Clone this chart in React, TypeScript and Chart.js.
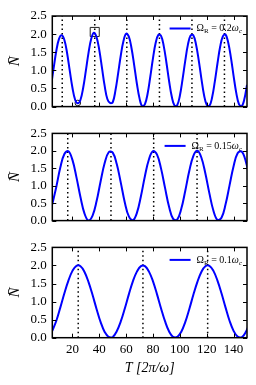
import React, { useEffect, useRef } from 'react';
import { Chart, registerables } from 'chart.js';

Chart.register(...registerables);

// ---------- data ----------
const T1 = [4, 6, 8, 10, 12, 14, 16, 18, 20, 22, 24, 26, 28, 30, 32, 34, 36, 38, 40, 42, 44, 46, 48, 50, 52, 54, 56, 58, 60, 62, 64, 66, 68, 70, 72, 74, 76, 78, 80, 82, 84, 86, 88, 90, 92, 94, 96, 98, 100, 102, 104, 106, 108, 110, 112, 114, 116, 118, 120, 122, 124, 126, 128, 130, 132, 134, 136, 138, 140, 142, 144, 146, 148, 150];
const N1 = [0.56, 1.06, 1.54, 1.87, 1.97, 1.84, 1.48, 0.99, 0.52, 0.19, 0.09, 0.19, 0.52, 0.99, 1.49, 1.87, 2.04, 1.91, 1.56, 1.07, 0.57, 0.21, 0.1, 0.12, 0.44, 0.91, 1.41, 1.81, 2.01, 1.93, 1.61, 1.14, 0.63, 0.22, 0.01, 0.07, 0.36, 0.83, 1.34, 1.76, 1.98, 1.95, 1.67, 1.21, 0.7, 0.27, 0.03, 0.04, 0.3, 0.75, 1.26, 1.71, 1.96, 1.97, 1.72, 1.29, 0.78, 0.32, 0.05, 0.02, 0.25, 0.68, 1.19, 1.65, 1.94, 1.99, 1.77, 1.36, 0.85, 0.38, 0.07, 0.01, 0.2, 0.6];

const T23 = [5, 8, 11, 14, 17, 20, 23, 26, 29, 32, 35, 38, 41, 44, 47, 50, 53, 56, 59, 62, 65, 68, 71, 74, 77, 80, 83, 86, 89, 92, 95, 98, 101, 104, 107, 110, 113, 116, 119, 122, 125, 128, 131, 134, 137, 140, 143, 146, 149, 152];
const N2 = [0.47, 0.97, 1.53, 1.91, 1.99, 1.74, 1.24, 0.67, 0.2, 0.0, 0.14, 0.56, 1.13, 1.65, 1.96, 1.95, 1.62, 1.09, 0.52, 0.12, 0.01, 0.22, 0.7, 1.28, 1.76, 1.99, 1.89, 1.49, 0.93, 0.39, 0.05, 0.03, 0.33, 0.85, 1.42, 1.85, 2.0, 1.81, 1.35, 0.78, 0.28, 0.02, 0.08, 0.46, 1.01, 1.56, 1.93, 1.98, 1.71, 1.2];
const N3 = [0.19, 0.47, 0.84, 1.23, 1.58, 1.85, 1.99, 1.98, 1.82, 1.54, 1.18, 0.79, 0.43, 0.16, 0.02, 0.02, 0.18, 0.45, 0.81, 1.2, 1.56, 1.83, 1.98, 1.98, 1.83, 1.56, 1.2, 0.81, 0.45, 0.17, 0.02, 0.02, 0.16, 0.43, 0.79, 1.18, 1.54, 1.82, 1.98, 1.99, 1.85, 1.58, 1.23, 0.84, 0.47, 0.19, 0.03, 0.01, 0.15, 0.41];

const peaks1 = [12.4, 36.6, 60.5, 84.8, 109, 133.2];
const peaks2 = [16.5, 48.7, 80.5, 112.8];
const peaks3 = [24.3, 72.5, 120.7];

const omegaValues = ['0.2', '0.15', '0.1'];
const xTicks = [20, 40, 60, 80, 100, 120, 140];
const yTicks = [0, 0.5, 1, 1.5, 2, 2.5];
const squareMarker = [{ x: 36.6, y: 2.06 }];
const circleMarker = [{ x: 24, y: 0.1 }];

const X_MIN = 5;
const X_MAX = 150;
const Y_MIN = 0;
const Y_MAX = 2.5;

const SERIF = '"Liberation Serif", "DejaVu Serif", serif';

type PanelProps = {
  top: number;
  height: number;
  padTop: number;
  xHeight: number;
  showX: boolean;
  T: number[];
  N: number[];
  peaks: number[];
  omega: string;
  markers: boolean;
};

function drawLegend(chart: any, omega: string) {
  const { ctx, chartArea } = chart;
  const segs = [
    { t: '\u03A9', size: 10, italic: false, sub: false },
    { t: 'R', size: 7, italic: false, sub: true },
    { t: ' = ' + omega, size: 10, italic: false, sub: false },
    { t: '\u03C9', size: 10, italic: true, sub: false },
    { t: 'c', size: 7, italic: true, sub: true },
  ];
  ctx.save();
  let total = 0;
  const widths = segs.map((s) => {
    ctx.font = `${s.italic ? 'italic ' : ''}${s.size}px ${SERIF}`;
    const w = ctx.measureText(s.t).width;
    total += w;
    return w;
  });
  const yMid = chartArea.top + 12.5;
  const textRight = chartArea.right - 5;
  let x = textRight - total;
  ctx.strokeStyle = '#0000ff';
  ctx.lineWidth = 2;
  ctx.beginPath();
  ctx.moveTo(x - 6 - 21, yMid);
  ctx.lineTo(x - 6, yMid);
  ctx.stroke();
  ctx.fillStyle = '#000';
  ctx.textBaseline = 'middle';
  ctx.textAlign = 'left';
  segs.forEach((s, i) => {
    ctx.font = `${s.italic ? 'italic ' : ''}${s.size}px ${SERIF}`;
    ctx.fillText(s.t, x, s.sub ? yMid + 3 : yMid);
    x += widths[i];
  });
  ctx.restore();
}

function Panel(props: PanelProps) {
  const ref = useRef<HTMLCanvasElement>(null);
  useEffect(() => {
    const { padTop, xHeight, showX, T, N, peaks, omega, markers } = props;
    const datasets: any[] = [
      {
        data: T.map((t, i) => ({ x: t, y: N[i] })),
        borderColor: '#0000ff',
        borderWidth: 2,
        pointRadius: 0,
        tension: 0.4,
        fill: false,
      },
    ];
    if (markers) {
      datasets.push({
        data: squareMarker,
        showLine: false,
        pointStyle: 'rect',
        pointRadius: 6.4,
        borderColor: '#222',
        backgroundColor: 'rgba(0,0,0,0)',
        borderWidth: 1,
      });
      datasets.push({
        data: circleMarker,
        showLine: false,
        pointStyle: 'circle',
        pointRadius: 2.8,
        borderColor: '#222',
        backgroundColor: 'rgba(0,0,0,0)',
        borderWidth: 1,
      });
    }

    const decor = {
      id: 'decor',
      beforeDatasetsDraw(chart: any) {
        const { ctx, chartArea, scales } = chart;
        ctx.save();
        ctx.strokeStyle = '#000';
        ctx.lineWidth = 1.5;
        ctx.setLineDash([1.5, 3]);
        ctx.beginPath();
        peaks.forEach((p) => {
          const px = scales.x.getPixelForValue(p);
          ctx.moveTo(px, chartArea.bottom);
          ctx.lineTo(px, chartArea.top);
        });
        ctx.stroke();
        ctx.restore();
      },
      afterDraw(chart: any) {
        const { ctx, chartArea, scales } = chart;
        const { left, right, top, bottom } = chartArea;
        ctx.save();
        ctx.strokeStyle = '#000';
        ctx.lineWidth = 1;
        ctx.beginPath();
        xTicks.forEach((v) => {
          const px = Math.round(scales.x.getPixelForValue(v)) + 0.5;
          ctx.moveTo(px, bottom);
          ctx.lineTo(px, bottom - 4);
          ctx.moveTo(px, top);
          ctx.lineTo(px, top + 4);
        });
        yTicks.forEach((v) => {
          const py = Math.round(scales.y.getPixelForValue(v)) + 0.5;
          ctx.moveTo(left, py);
          ctx.lineTo(left + 4, py);
          ctx.moveTo(right, py);
          ctx.lineTo(right - 4, py);
        });
        ctx.stroke();
        ctx.lineWidth = 1.5;
        ctx.strokeRect(left, top, right - left, bottom - top);
        ctx.restore();
        drawLegend(chart, omega);
      },
    };

    const chart = new Chart(ref.current as HTMLCanvasElement, {
      type: 'line',
      data: { datasets },
      options: {
        animation: false,
        responsive: false,
        maintainAspectRatio: false,
        events: [],
        layout: { padding: { top: padTop, right: 9, left: 0, bottom: 0 } },
        plugins: { legend: { display: false }, tooltip: { enabled: false } },
        scales: {
          x: {
            type: 'linear',
            min: X_MIN,
            max: X_MAX,
            afterBuildTicks: (s: any) => {
              s.ticks = xTicks.map((v) => ({ value: v }));
            },
            afterFit: (s: any) => {
              s.height = xHeight;
            },
            grid: { display: false, drawTicks: false },
            border: { display: false },
            ticks: {
              display: showX,
              autoSkip: false,
              maxRotation: 0,
              padding: 4,
              color: '#000',
              font: { family: SERIF, size: 13 },
            },
            title: {
              display: showX,
              text: 'T [2\u03C0/\u03C9]',
              color: '#000',
              font: { family: SERIF, size: 14, style: 'italic' },
              padding: { top: 0, bottom: 8.6 },
            },
          },
          y: {
            type: 'linear',
            min: Y_MIN,
            max: Y_MAX,
            afterBuildTicks: (s: any) => {
              s.ticks = yTicks.map((v) => ({ value: v }));
            },
            afterFit: (s: any) => {
              s.width = 52.3;
            },
            grid: { display: false, drawTicks: false },
            border: { display: false },
            ticks: {
              autoSkip: false,
              padding: 5.6,
              color: '#000',
              font: { family: SERIF, size: 13 },
              callback: (v: any) => Number(v).toFixed(1),
            },
            title: {
              display: true,
              text: 'N\u0304',
              color: '#000',
              font: { family: SERIF, size: 15, style: 'italic' },
              padding: { top: 6, bottom: 0 },
            },
          },
        },
      } as any,
      plugins: [decor],
    });
    return () => chart.destroy();
  }, []);
  return (
    <canvas
      ref={ref}
      width={256}
      height={props.height}
      style={{ position: 'absolute', left: 0, top: props.top, width: 256, height: props.height }}
    />
  );
}

export default function App() {
  return (
    <div style={{ position: 'absolute', left: 0, top: 0, width: 256, height: 385, background: '#fff', overflow: 'hidden' }}>
      <Panel top={0} height={120} padTop={16} xHeight={9} showX={false} T={T1} N={N1} peaks={peaks1} omega={omegaValues[0]} markers={true} />
      <Panel top={120} height={114} padTop={10} xHeight={10} showX={false} T={T23} N={N2} peaks={peaks2} omega={omegaValues[1]} markers={false} />
      <Panel top={234} height={151} padTop={9.4} xHeight={47.3} showX={true} T={T23} N={N3} peaks={peaks3} omega={omegaValues[2]} markers={false} />
    </div>
  );
}
